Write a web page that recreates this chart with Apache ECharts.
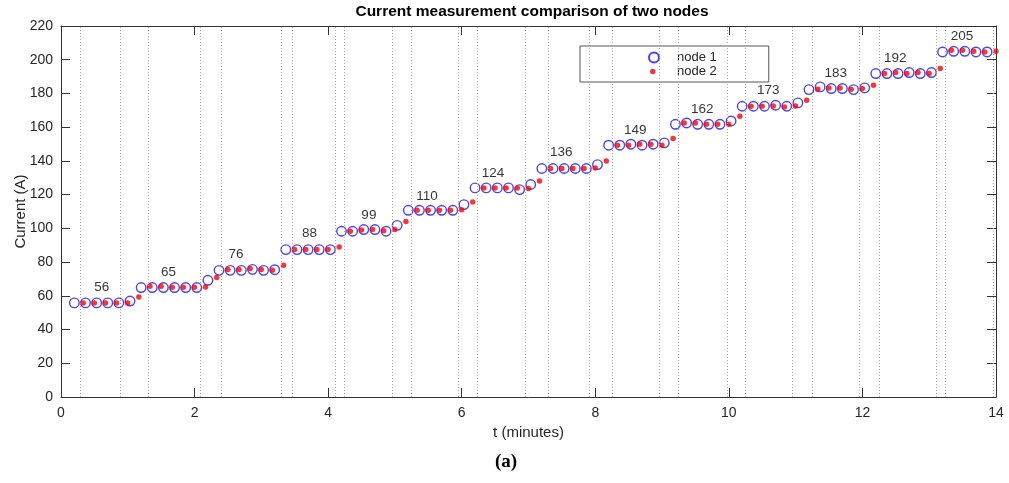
<!DOCTYPE html>
<html><head><meta charset="utf-8">
<script src="https://cdn.jsdelivr.net/npm/echarts@6/dist/echarts.min.js"></script>
<style>html,body{margin:0;padding:0;background:#fff}#c{width:1009px;height:483px}</style>
</head><body><div id="c"></div>
<script>
// ---- data ----
// samples every 10 s (1/6 min) starting at t = 0.2 min
const sampleStart = 0.2;
const sampleStep = 1 / 6;
const node2Lag = 0.035;          // node 2 samples drawn slightly earlier
// node 1: samples k = 0..82
const node1 = [
  55.8, 55.8, 55.8, 55.8, 55.8, 56.9,
  64.9, 64.9, 64.9, 64.9, 64.9, 64.9, 69.2,
  75.1, 75.1, 75.1, 75.7, 75.1, 75.5,
  87.4, 87.4, 87.4, 87.4, 87.4,
  98.3, 98.3, 99.3, 99.3, 98.3, 101.8,
  110.7, 110.7, 110.7, 110.7, 110.7, 114.1,
  124.0, 124.0, 124.0, 124.0, 123.0, 126.0,
  135.5, 135.5, 135.5, 135.5, 135.5, 137.8,
  149.3, 149.3, 149.9, 149.3, 149.9, 150.7,
  161.7, 162.5, 161.7, 161.7, 161.7, 163.7,
  172.4, 172.4, 172.4, 173.0, 172.4, 174.4,
  182.3, 183.9, 182.9, 182.9, 182.3, 183.3,
  191.8, 191.8, 191.8, 192.4, 191.8, 192.4,
  204.6, 205.0, 205.0, 204.6, 204.6
];
// node 2: samples k = 1..83
const node2 = [
  55.8, 55.8, 55.8, 55.8, 55.8,
  59.3, 65.7, 65.7, 65.1, 65.1, 65.1, 65.2,
  70.8, 75.6, 75.6, 76.2, 75.6, 75.1,
  78.1, 87.4, 87.4, 87.4, 87.4,
  89.0, 98.3, 99.0, 99.3, 98.6, 99.3,
  104.0, 110.7, 110.7, 110.7, 110.7, 111.0,
  115.7, 124.0, 124.0, 124.0, 124.0, 123.6,
  128.1, 135.5, 135.5, 135.5, 135.5, 135.8,
  140.0, 149.3, 149.3, 149.9, 149.9, 149.3,
  153.3, 162.5, 162.5, 161.7, 161.7, 161.7,
  166.5, 172.4, 172.4, 172.6, 172.0, 172.6,
  176.0, 182.5, 183.3, 183.3, 182.5, 182.9,
  184.9, 191.8, 192.4, 191.8, 192.4, 191.8,
  194.8, 205.6, 205.6, 205.0, 204.6, 205.0
];
// level annotations
const levelLabels = [56, 65, 76, 88, 99, 110, 124, 136, 149, 162, 173, 183, 192, 205];
const levelLabelT = [0.61, 1.61, 2.62, 3.72, 4.61, 5.48, 6.47, 7.49, 8.60, 9.60, 10.59, 11.60, 12.49, 13.49];
// dotted vertical marker lines (minutes)
const markerT = [0.29, 0.89, 1.30, 2.09, 2.40, 3.30, 3.46, 4.10, 4.24, 4.96, 5.25, 5.95, 6.24,
  6.95, 7.30, 7.91, 8.25, 8.96, 9.24, 9.97, 10.25, 10.95, 11.25, 11.95, 12.25, 13.11, 13.24, 13.96];
const xRange = [0, 14, 2];
const yRange = [0, 220, 20];

// ---- chart ----
const AX = '#333';
const FONT = 'Liberation Sans, Arial, sans-serif';
const chart = echarts.init(document.getElementById('c'), null, {renderer: 'canvas'});
const n1 = node1.map((v, k) => [sampleStart + k * sampleStep, v]);
const n2 = node2.map((v, i) => [sampleStart + (i + 1) * sampleStep - node2Lag, v]);
const lbl = levelLabels.map((v, i) => [levelLabelT[i], v]);

function xAx(pos, main) {
  return {
    type: 'value', position: pos, min: xRange[0], max: xRange[1], interval: xRange[2],
    axisLine: {show: true, onZero: false, lineStyle: {color: AX, width: 1}},
    axisTick: {show: true, inside: true, length: 9, lineStyle: {color: AX}},
    axisLabel: {show: main, margin: 9, fontSize: 14, color: '#262626', fontFamily: FONT},
    splitLine: {show: false},
    name: main ? 't (minutes)' : '', nameLocation: 'middle', nameGap: 28, nameMoveOverlap: false,
    nameTextStyle: {fontSize: 15, color: '#262626', fontFamily: FONT}
  };
}
function yAx(pos, main) {
  return {
    type: 'value', position: pos, min: yRange[0], max: yRange[1], interval: yRange[2],
    axisLine: {show: true, onZero: false, lineStyle: {color: AX, width: 1}},
    axisTick: {show: true, inside: true, length: 9, lineStyle: {color: AX}},
    axisLabel: {show: main, margin: 8, fontSize: 14, color: '#262626', fontFamily: FONT},
    splitLine: {show: false},
    name: main ? 'Current (A)' : '', nameLocation: 'middle', nameGap: 33, nameRotate: 90, nameMoveOverlap: false,
    nameTextStyle: {fontSize: 15, color: '#262626', fontFamily: FONT}
  };
}

chart.setOption({
  animation: false,
  backgroundColor: '#fff',
  textStyle: {fontFamily: FONT},
  title: [
    {text: 'Current measurement comparison of two nodes', left: 528, textAlign: 'center', top: 0, padding: 4,
     textStyle: {fontSize: 15.5, fontWeight: 'bold', color: '#000', fontFamily: FONT}},
    {text: '(a)', left: 506, textAlign: 'center', top: 453, padding: 0,
     textStyle: {fontSize: 19, fontWeight: 'bold', color: '#000', fontFamily: 'Liberation Serif, serif'}}
  ],
  grid: {left: 61, right: 13, top: 26, bottom: 86, show: false, outerBoundsMode: 'none', containLabel: false},
  legend: [
    {data: ['node 1'], left: 580, top: 46, orient: 'vertical', itemWidth: 10, itemHeight: 10, itemGap: 0,
     padding: [5, 52, 18, 68], borderColor: '#555', borderWidth: 1, backgroundColor: '#fff',
     textStyle: {fontSize: 13, color: '#262626', fontFamily: FONT, padding: [0, 0, 0, 13]}, selectedMode: false},
    {data: ['node 2'], left: 650, top: 65, orient: 'vertical', itemWidth: 5.5, itemHeight: 5.5, itemGap: 0,
     padding: 0, textStyle: {fontSize: 13, color: '#262626', fontFamily: FONT, padding: [0, 0, 0, 16.5]}, selectedMode: false}
  ],
  xAxis: [xAx('bottom', true), xAx('top', false)],
  yAxis: [yAx('left', true), yAx('right', false)],
  series: [
    {type: 'line', name: 'markers', data: [], silent: true, z: 1,
     markLine: {silent: true, symbol: ['none', 'none'], label: {show: false},
       lineStyle: {type: [1, 2], color: '#aaa', width: 1},
       emphasis: {disabled: true},
       data: markerT.map(t => ({xAxis: t}))}},
    {type: 'scatter', name: 'node 1', data: n1, symbol: 'circle', symbolSize: 9.5, z: 3,
     itemStyle: {color: 'rgba(0,0,0,0)', borderColor: '#1414ff', borderWidth: 1.4}},
    {type: 'scatter', name: 'node 2', data: n2, symbol: 'circle', symbolSize: 5.5, z: 4,
     itemStyle: {color: '#ff0000'}},
    {type: 'scatter', name: 'levels', data: lbl, symbolSize: 0, z: 5, silent: true,
     label: {show: true, position: 'inside', offset: [0, -15], formatter: p => String(p.value[1]),
       fontSize: 13.5, color: '#000', fontFamily: FONT}}
  ]
});
</script>
</body></html>
